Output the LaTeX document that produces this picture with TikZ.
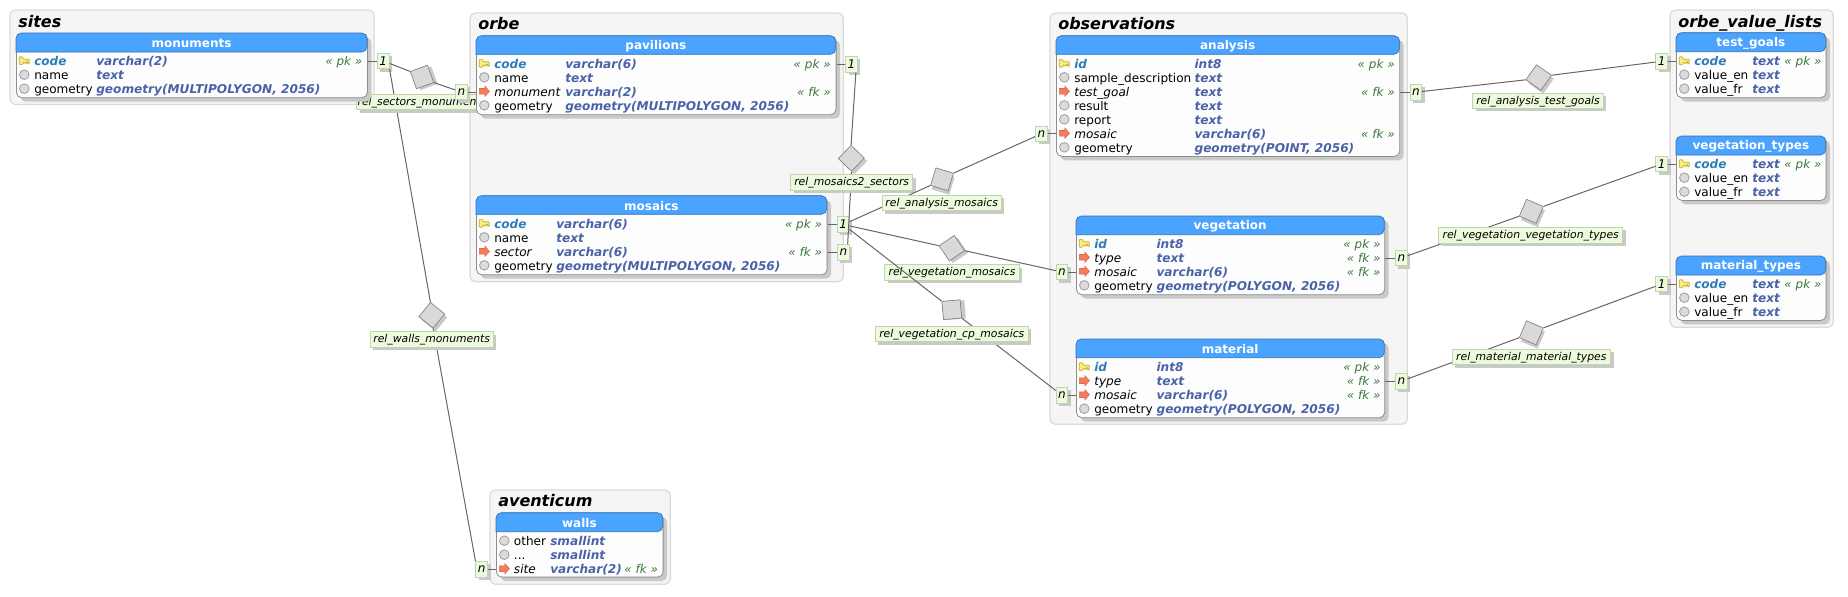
\documentclass[tikz,border=0pt]{standalone}
\usepackage{fontspec}
\setmainfont{DejaVu Sans}
\usetikzlibrary{shapes.geometric, shadows, calc}

\definecolor{clusterfill}{HTML}{F5F5F5}
\definecolor{clusterline}{HTML}{DADADA}
\definecolor{headfill}{HTML}{4AA3FF}
\definecolor{headline}{HTML}{2F72B5}
\definecolor{bodyfill}{HTML}{FDFDFD}
\definecolor{bodyline}{HTML}{8E8E8E}
\definecolor{shadowgray}{HTML}{C9C9C9}
\definecolor{notefill}{HTML}{ECFADD}
\definecolor{noteline}{HTML}{C3D2B0}
\definecolor{edgegray}{HTML}{666666}
\definecolor{typeblue}{HTML}{4A63A8}
\definecolor{pkblue}{HTML}{2F7DB8}
\definecolor{taggreen}{HTML}{3B7A3B}
\definecolor{keyfill}{HTML}{F7EE86}
\definecolor{keyline}{HTML}{C4AE1E}
\definecolor{fkfill}{HTML}{F27C60}
\definecolor{fkline}{HTML}{E0694C}

\tikzstyle{cluster} = [draw=clusterline, fill=clusterfill, line width=0.9pt, rounded corners=4pt]
\tikzstyle{clustertitle} = [anchor=base west, inner sep=0pt, font=\fontsize{12}{14}\selectfont\bfseries\itshape]
\tikzstyle{tablebody} = [rectangle, draw=bodyline, fill=bodyfill, line width=0.6pt, rounded corners=4pt, inner sep=0pt,
  drop shadow={shadow xshift=3pt, shadow yshift=-3pt, fill=shadowgray, opacity=1}]
\tikzstyle{tablehead} = [fill=headfill, draw=headline, line width=0.5pt]
\tikzstyle{tabletitle} = [inner sep=0pt, text=white, font=\fontsize{9}{11}\selectfont\bfseries]
\tikzstyle{rowtext} = [anchor=base west, inner sep=0pt, font=\fontsize{9.05}{11}\selectfont]
\tikzstyle{rowtag} = [anchor=base east, inner sep=0pt, text=taggreen, font=\fontsize{9}{11}\selectfont\itshape]
\tikzstyle{card} = [rectangle, draw=noteline, fill=notefill, line width=0.6pt, minimum width=8.8pt, minimum height=11.7pt, inner sep=0pt,
  font=\fontsize{9}{11}\selectfont\itshape, drop shadow={shadow xshift=2.2pt, shadow yshift=-2.2pt, fill=shadowgray, opacity=1}]
\tikzstyle{relnote} = [rectangle, draw=noteline, fill=notefill, line width=0.6pt, minimum height=11.7pt, inner sep=0pt, text depth=1.8pt, text height=7pt,
  font=\fontsize{8.1}{11}\selectfont\itshape, drop shadow={shadow xshift=2.2pt, shadow yshift=-2.2pt, fill=shadowgray, opacity=1}]
\tikzstyle{reldiamond} = [diamond, aspect=1, draw=gray, fill=black!15, line width=0.5pt, minimum size=19.6pt, inner sep=0pt]
\tikzstyle{edge} = [draw=edgegray, line width=0.75pt]

% name, angle, x, y; the shadow turns with the node, so its offset is turned back
\newcommand{\reldiamondat}[4]{
  \pgfmathsetmacro{\sdx}{2.2*(cos(#2)-sin(#2))}
  \pgfmathsetmacro{\sdy}{-2.2*(cos(#2)+sin(#2))}
  \node[reldiamond, rotate=#2, drop shadow={shadow xshift=\sdx pt, shadow yshift=\sdy pt, fill=shadowgray, opacity=1}] (#1) at (#3,#4) {};
}

% row pieces, picked by the kind of the row
\newcommand{\iconpk}[2]{\draw[fill=keyfill, draw=keyline, line width=0.5pt, shift={(#1,#2)}, rounded corners=0.6pt]
  (-5,-4) -- (-2,-4) -- (-1,-1.5) -- (5,-1.5) -- (5,3) -- (3.5,3) -- (3.5,1) -- (2,1) -- (2,2.5) -- (0.5,2.5) -- (-0.5,1.5) -- (-2,4) -- (-5,4) -- cycle;}
\newcommand{\iconfk}[2]{\draw[fill=fkfill, draw=fkline, line width=0.4pt, shift={(#1,#2)}]
  (-5,-2.8) -- (0.5,-2.8) -- (0.5,-5.2) -- (5.2,0) -- (0.5,5.2) -- (0.5,2.8) -- (-5,2.8) -- cycle;}
\newcommand{\iconplain}[2]{\draw[fill=black!14, draw=black!38, line width=0.6pt] (#1,#2) circle (4.8);}
\newcommand{\fontpk}{\bfseries\itshape\color{pkblue}}
\newcommand{\fontfk}{\itshape}
\newcommand{\fontplain}{}
\newcommand{\threedots}{...}
\newcommand{\tagpk}[3]{\node[rowtag] (#1-tag) at (#2,#3) {« pk »};}
\newcommand{\tagfk}[3]{\node[rowtag] (#1-tag) at (#2,#3) {« fk »};}
\newcommand{\tagplain}[3]{}

% name, x0, y0, x1, y1, header bottom, title
\newcommand{\dbtable}[7]{
  \node[tablebody, anchor=north west, minimum width={(#4-#2)*0.75pt}, minimum height={(#5-#3)*0.75pt}] (#1) at (#2,#3) {};
  \draw[tablehead, rounded corners=4pt] (#2,#6) -- (#2,#3) -- (#4,#3) -- (#4,#6) [sharp corners] -- cycle;
  \node[tabletitle] (#1-title) at ({(#2+#4)/2},{(#3+#6)/2+0.8}) {#7};
}
% name, x icon, x name, x type, x tag, y first row, rows
\newcommand{\dbrows}[7]{
  \foreach \kind/\rname/\rtype [count=\i] in {#7} {
    \pgfmathsetmacro{\ry}{#6+(\i-1)*14}
    \pgfmathsetmacro{\rb}{\ry+5}
    \csname icon\kind\endcsname{#2}{\ry}
    \node[rowtext] (#1-\i-name) at (#3,\rb) {\csname font\kind\endcsname \rname};
    \node[rowtext, text=typeblue, font=\fontsize{9.1}{11}\selectfont\bfseries\itshape] (#1-\i-type) at (#4,\rb) {\rtype};
    \csname tag\kind\endcsname{#1-\i}{#5}{\rb}
  }
}

\begin{document}
\begin{tikzpicture}[x=0.75pt, y=-0.75pt]
  \useasboundingbox (0,0) rectangle (1848,596);

  % Clusters
  \draw[cluster] (10,10) rectangle (374,104.5);
  \draw[cluster] (470,13) rectangle (843.3,281.7);
  \draw[cluster] (1050,13) rectangle (1407.3,424.3);
  \draw[cluster] (1670,10) rectangle (1833.3,327.3);
  \draw[cluster] (490,490) rectangle (670.3,584.3);
  \node[clustertitle] (sites_name) at (18,27) {sites};
  \node[clustertitle] (orbe_name) at (478,29.5) {orbe};
  \node[clustertitle] (observations_name) at (1058,29.5) {observations};
  \node[clustertitle] (lists_name) at (1678,27) {orbe\_value\_lists};
  \node[clustertitle] (aventicum_name) at (498,506.5) {aventicum};

  % Walls relation runs under the sectors note
  \node[card] (monuments_card) at (383.3,61) {1};
  \node[card] (walls_card) at (481.7,569.2) {n};
  \reldiamondat{rel_walls}{6}{431.8}{315.3}
  \draw[edge] (monuments_card.south east) -- (rel_walls.north);
  \draw[edge] (rel_walls.south) -- (walls_card.north west);
  \node[relnote, minimum width=92pt] (rel_walls_note) at (431.7,339.5) {rel\_walls\_monuments};

  \node[relnote, minimum width=98pt] (rel_sectors_note) at (422,102) {rel\_sectors\_monuments};

  % Tables
  \dbtable{monuments}{16}{33}{367}{97.3}{52}{monuments}
  \dbrows{monuments}{24.3}{34}{96}{362.6}{60.7}{pk/code/varchar(2), plain/name/text, plain/geometry/{geometry(MULTIPOLYGON, 2056)}}
  \dbtable{walls}{496}{512.7}{662.7}{576.7}{531.7}{walls}
  \dbrows{walls}{504.3}{513.7}{550}{658.3}{540.7}{plain/other/smallint, plain/\threedots/smallint, fk/site/varchar(2)}
  \dbtable{pavilions}{476}{35.7}{835.7}{114.3}{54.3}{pavilions}
  \dbrows{pavilions}{484.3}{494}{565}{831}{63.3}{pk/code/varchar(6), plain/name/text, fk/monument/varchar(2), plain/geometry/{geometry(MULTIPOLYGON, 2056)}}
  \dbtable{mosaics}{476}{195.7}{826.7}{274.3}{214.3}{mosaics}
  \dbrows{mosaics}{484.3}{494}{556}{822.3}{223.3}{pk/code/varchar(6), plain/name/text, fk/sector/varchar(6), plain/geometry/{geometry(MULTIPOLYGON, 2056)}}
  \dbtable{analysis}{1056}{35.7}{1399.3}{156}{54.3}{analysis}
  \dbrows{analysis}{1064.3}{1074}{1194.3}{1395}{63.3}{pk/id/int8, plain/sample\_description/text, fk/test\_goal/text, plain/result/text, plain/report/text, fk/mosaic/varchar(6), plain/geometry/{geometry(POINT, 2056)}}
  \dbtable{vegetation}{1076}{216}{1384.3}{294.3}{234.7}{vegetation}
  \dbrows{vegetation}{1084.3}{1094}{1156.3}{1380.7}{243.3}{pk/id/int8, fk/type/text, fk/mosaic/varchar(6), plain/geometry/{geometry(POLYGON, 2056)}}
  \dbtable{material}{1076}{339}{1384.3}{417.3}{357.7}{material}
  \dbrows{material}{1084.3}{1094}{1156.3}{1380.7}{366.7}{pk/id/int8, fk/type/text, fk/mosaic/varchar(6), plain/geometry/{geometry(POLYGON, 2056)}}
  \dbtable{test_goals}{1676}{32.7}{1825.7}{97.3}{51.7}{test\_goals}
  \dbrows{test_goals}{1684.3}{1694}{1752}{1821.7}{60.7}{pk/code/text, plain/value\_en/text, plain/value\_fr/text}
  \dbtable{vegetation_types}{1676}{136}{1825.7}{200}{155}{vegetation\_types}
  \dbrows{vegetation_types}{1684.3}{1694}{1752}{1821.7}{163.7}{pk/code/text, plain/value\_en/text, plain/value\_fr/text}
  \dbtable{material_types}{1676}{256}{1825.7}{320}{275}{material\_types}
  \dbrows{material_types}{1684.3}{1694}{1752}{1821.7}{283.7}{pk/code/text, plain/value\_en/text, plain/value\_fr/text}

  % Cardinalities
  \node[card] (pavilions_n) at (461.3,92) {n};
  \node[card] (pavilions_one) at (851.5,64.3) {1};
  \node[card] (mosaics_one) at (843.3,224.5) {1};
  \node[card] (mosaics_n) at (843.3,252.2) {n};
  \node[card] (analysis_n) at (1041.5,133.7) {n};
  \node[card] (analysis_out) at (1415.8,92.2) {n};
  \node[card] (vegetation_n) at (1062,272) {n};
  \node[card] (vegetation_out) at (1401.3,258) {n};
  \node[card] (material_n) at (1062,395.3) {n};
  \node[card] (material_out) at (1401.3,381.2) {n};
  \node[card] (test_goals_card) at (1661.7,61.3) {1};
  \node[card] (vegetation_types_card) at (1661.7,164) {1};
  \node[card] (material_types_card) at (1661.7,284) {1};

  % Card to table stubs
  \draw[edge] (monuments_card) -- (monuments.east |- monuments_card);
  \draw[edge] (walls_card) -- (walls.west |- walls_card);
  \draw[edge] (pavilions_n) -- (pavilions.west |- pavilions_n);
  \draw[edge] (pavilions_one) -- (pavilions.east |- pavilions_one);
  \draw[edge] (mosaics_one) -- (mosaics.east |- mosaics_one);
  \draw[edge] (mosaics_n) -- (mosaics.east |- mosaics_n);
  \draw[edge] (analysis_n) -- (analysis.west |- analysis_n);
  \draw[edge] (analysis_out) -- (analysis.east |- analysis_out);
  \draw[edge] (vegetation_n) -- (vegetation.west |- vegetation_n);
  \draw[edge] (vegetation_out) -- (vegetation.east |- vegetation_out);
  \draw[edge] (material_n) -- (material.west |- material_n);
  \draw[edge] (material_out) -- (material.east |- material_out);
  \draw[edge] (test_goals_card) -- (test_goals.west |- test_goals_card);
  \draw[edge] (vegetation_types_card) -- (vegetation_types.west |- vegetation_types_card);
  \draw[edge] (material_types_card) -- (material_types.west |- material_types_card);

  % Relations
  \reldiamondat{rel_sectors}{-25}{422}{77}
  \draw[edge] (monuments_card) -- (rel_sectors.west);
  \draw[edge] (rel_sectors.east) -- (pavilions_n);

  \reldiamondat{rel_mosaics2}{1}{851.3}{158.3}
  \draw[edge] (pavilions_one.-62) -- (rel_mosaics2.north);
  \draw[edge] (rel_mosaics2.south) -- (mosaics_n.62);
  \node[relnote, minimum width=91.5pt] (rel_mosaics2_note) at (851.7,182.5) {rel\_mosaics2\_sectors};

  \reldiamondat{rel_analysis}{28}{942}{179.3}
  \draw[edge] (mosaics_one) -- (rel_analysis.west);
  \draw[edge] (rel_analysis.east) -- (analysis_n);
  \node[relnote, minimum width=89pt] (rel_analysis_note) at (941.7,203) {rel\_analysis\_mosaics};

  \reldiamondat{rel_vegetation}{-11}{951.8}{248.2}
  \draw[edge] (mosaics_one) -- (rel_vegetation.west);
  \draw[edge] (rel_vegetation.east) -- (vegetation_n);
  \node[relnote, minimum width=101pt] (rel_vegetation_note) at (952,272.5) {rel\_vegetation\_mosaics};

  \reldiamondat{rel_cp}{-40}{951.8}{309.7}
  \draw[edge] (mosaics_one) -- (rel_cp.west);
  \draw[edge] (rel_cp.east) -- (material_n);
  \node[relnote, minimum width=114.7pt] (rel_cp_note) at (951.8,333.8) {rel\_vegetation\_cp\_mosaics};

  \reldiamondat{rel_test_goals}{10}{1538.7}{77.5}
  \draw[edge] (analysis_out) -- (rel_test_goals.west);
  \draw[edge] (rel_test_goals.east) -- (test_goals_card);
  \node[relnote, minimum width=98pt] (rel_test_goals_note) at (1538,100.7) {rel\_analysis\_test\_goals};

  \reldiamondat{rel_veg_types}{22}{1531.3}{211.3}
  \draw[edge] (vegetation_out) -- (rel_veg_types.west);
  \draw[edge] (rel_veg_types.east) -- (vegetation_types_card);
  \node[relnote, minimum width=138pt] (rel_veg_types_note) at (1530.7,235.3) {rel\_vegetation\_vegetation\_types};

  \reldiamondat{rel_mat_types}{22}{1531.3}{332.8}
  \draw[edge] (material_out) -- (rel_mat_types.west);
  \draw[edge] (rel_mat_types.east) -- (material_types_card);
  \node[relnote, minimum width=119pt] (rel_mat_types_note) at (1531.3,357) {rel\_material\_material\_types};
\end{tikzpicture}
\end{document}
